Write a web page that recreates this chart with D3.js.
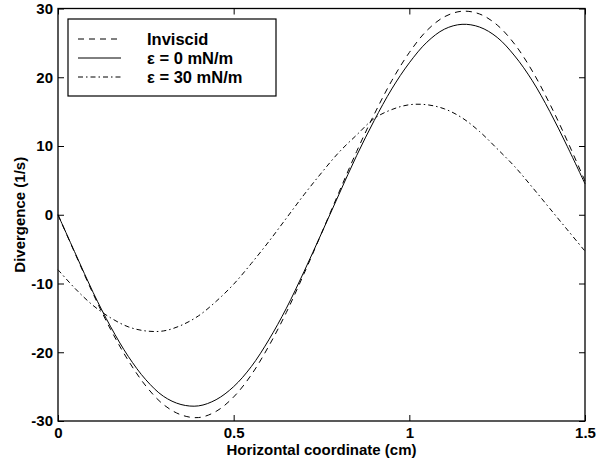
<!DOCTYPE html>
<html><head><meta charset="utf-8">
<script src="https://cdn.jsdelivr.net/npm/d3@7"></script>
<style>
body{margin:0;background:#fff;}
svg text{font-family:"Liberation Sans",Arial,Helvetica,sans-serif;font-weight:bold;fill:#000;}
</style></head><body>
<svg id="c" width="597" height="464"></svg>
<script>
const xValues = [0,0.05,0.10,0.15,0.20,0.25,0.30,0.35,0.40,0.45,0.50,0.55,0.60,0.65,0.70,0.75,0.80,0.85,0.90,0.95,1.00,1.05,1.10,1.15,1.20,1.25,1.30,1.35,1.40,1.45,1.50];
const inviscid = [0,-5.8,-11.5,-16.7,-21.2,-24.9,-27.6,-29.1,-29.5,-28.6,-26.5,-23.3,-19.1,-14.2,-8.6,-2.7,3.3,9.2,14.6,19.5,23.6,26.8,28.8,29.6,29.2,27.6,24.8,20.9,16.1,10.7,4.9];
const eps0 = [0,-5.7,-11.3,-16.3,-20.6,-24.0,-26.4,-27.6,-27.8,-26.9,-25.0,-22.1,-18.2,-13.6,-8.3,-2.7,3.0,8.6,13.7,18.3,22.1,25.1,27.0,27.7,27.3,25.8,23.1,19.5,15.0,9.9,4.5];
const eps30 = [-8.0,-10.8,-13.2,-15.0,-16.3,-16.9,-16.9,-16.1,-14.7,-12.6,-10.1,-7.1,-3.9,-0.5,2.9,6.1,9.1,11.6,14.0,15.3,16.0,16.0,15.4,14.1,12.1,9.6,7.0,4.0,0.9,-2.2,-5.3];
const seriesNames = ["Inviscid","\u03b5 = 0 mN/m","\u03b5 = 30 mN/m"];
const seriesData = [inviscid, eps0, eps30];
const seriesDash = ["6,5", null, "5,3,1.5,3"];
const xTicks = [0,0.5,1,1.5];
const xTickLabels = ["0","0.5","1","1.5"];
const yTicks = [-30,-20,-10,0,10,20,30];
const yTickLabels = ["-30","-20","-10","0","10","20","30"];
const xTitle = "Horizontal coordinate (cm)";
const yTitle = "Divergence (1/s)";

const svg = d3.select("#c");
const L=58, R=585, T=8.5, B=421;
const x = d3.scaleLinear().domain([0,1.5]).range([L,R]);
const y = d3.scaleLinear().domain([-30,30]).range([B,T]);

svg.append("rect").attr("x",L).attr("y",T).attr("width",R-L).attr("height",B-T)
  .attr("fill","none").attr("stroke","#000").attr("stroke-width",1.3);

function styleAxis(g){
  g.select(".domain").remove();
  g.selectAll(".tick line").attr("stroke","#000").attr("stroke-width",1);
  g.selectAll("text").style("font-size","15px").attr("font-family",null);
}
svg.append("g").attr("transform",`translate(0,${B})`)
  .call(d3.axisBottom(x).tickValues(xTicks).tickFormat((d,i)=>xTickLabels[i]).tickSizeInner(-6).tickSizeOuter(0).tickPadding(6))
  .call(styleAxis);
svg.append("g").attr("transform",`translate(0,${T})`)
  .call(d3.axisTop(x).tickValues(xTicks).tickFormat("").tickSizeInner(-6).tickSizeOuter(0))
  .call(styleAxis);
svg.append("g").attr("transform",`translate(${L},0)`)
  .call(d3.axisLeft(y).tickValues(yTicks).tickFormat((d,i)=>yTickLabels[i]).tickSizeInner(-6).tickSizeOuter(0).tickPadding(5))
  .call(styleAxis);
svg.append("g").attr("transform",`translate(${R},0)`)
  .call(d3.axisRight(y).tickValues(yTicks).tickFormat("").tickSizeInner(-6).tickSizeOuter(0))
  .call(styleAxis);

const line = d3.line().x((d,i)=>x(xValues[i])).y(d=>y(d)).curve(d3.curveCatmullRom);
seriesData.forEach((s,k)=>{
  svg.append("path").datum(s).attr("d",line).attr("fill","none")
    .attr("stroke","#000").attr("stroke-width",1)
    .attr("stroke-dasharray",seriesDash[k]);
});

svg.append("text").attr("x",(L+R)/2).attr("y",455).attr("text-anchor","middle")
  .style("font-size","15px").text(xTitle);
svg.append("text").attr("transform",`translate(25,${(T+B)/2}) rotate(-90)`).attr("text-anchor","middle")
  .style("font-size","15px").text(yTitle);

const lg = svg.append("g");
lg.append("rect").attr("x",68).attr("y",19).attr("width",208).attr("height",77)
  .attr("fill","#fff").attr("stroke","#000").attr("stroke-width",1.2);
seriesNames.forEach((n,k)=>{
  const yy = 39 + k*19;
  lg.append("line").attr("x1",78).attr("x2",121).attr("y1",yy).attr("y2",yy)
    .attr("stroke","#000").attr("stroke-width",1).attr("stroke-dasharray",seriesDash[k]);
  lg.append("text").attr("x",147).attr("y",yy+5.5).style("font-size","16.5px").text(n);
});
</script>
</body></html>
